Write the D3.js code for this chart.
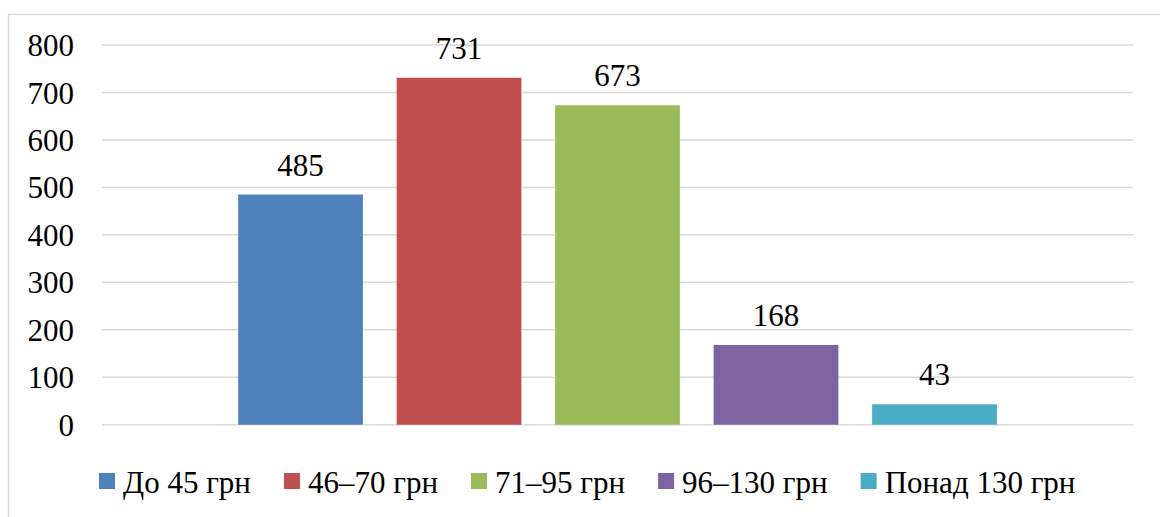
<!DOCTYPE html>
<html>
<head>
<meta charset="utf-8">
<script src="https://cdn.jsdelivr.net/npm/d3@7"></script>
<style>
  html body svg#chart text.t { font-family: "Liberation Serif", "Times New Roman", serif !important; }
</style>
</head>
<body style="margin:0">
<svg id="chart" width="1160" height="517"></svg>
<script>
const series = ["До 45 грн", "46–70 грн", "71–95 грн", "96–130 грн", "Понад 130 грн"];
const values = [485, 731, 673, 168, 43];
const colors = ["#4F81BD", "#C0504D", "#9BBB59", "#8064A2", "#4BACC6"];
const yTicks = [0, 100, 200, 300, 400, 500, 600, 700, 800];

const FONT = "Times New Roman";
const FS = 31;
const svg = d3.select("#chart");

// chart border
svg.append("rect")
  .attr("x", 8.5).attr("y", 14.5)
  .attr("width", 1200).attr("height", 600)
  .attr("fill", "#fff").attr("stroke", "#D9D9D9").attr("stroke-width", 1.5);

const plot = { left: 102, right: 1133, top: 45, bottom: 424.7 };

const y = d3.scaleLinear().domain([0, 800]).range([plot.bottom, plot.top]);
const x = d3.scaleBand().domain(series).range([plot.left, plot.right])
  .paddingInner(0.213).paddingOuter(0.859);

// gridlines
svg.append("g").selectAll("line").data(yTicks).join("line")
  .attr("x1", plot.left).attr("x2", plot.right)
  .attr("y1", d => y(d)).attr("y2", d => y(d))
  .attr("stroke", "#D9D9D9").attr("stroke-width", 1.5);

// y axis labels
const yAxis = d3.axisLeft(y).tickValues(yTicks).tickSize(0).tickPadding(0);
const ga = svg.append("g").attr("transform", "translate(74,0)").call(yAxis);
ga.attr("font-family", FONT).attr("font-size", FS);
ga.select(".domain").remove();
ga.selectAll("text")
  .attr("class", "t")
  .attr("font-family", FONT).attr("font-size", FS)
  .attr("fill", "#000").attr("dy", "0.34em");

// bars
svg.append("g").selectAll("rect").data(series).join("rect")
  .attr("x", d => x(d)).attr("width", x.bandwidth())
  .attr("y", (d, i) => y(values[i]))
  .attr("height", (d, i) => y(0) - y(values[i]))
  .attr("fill", (d, i) => colors[i]);

// data labels
svg.append("g")
  .selectAll("text").data(series).join("text")
  .attr("class", "t")
  .attr("font-family", FONT).attr("font-size", FS)
  .attr("x", d => x(d) + x.bandwidth() / 2)
  .attr("y", (d, i) => y(values[i]) - 19)
  .attr("text-anchor", "middle")
  .attr("fill", "#000")
  .text((d, i) => values[i]);

// legend
const lg = svg.append("g");
let lx = 99;
series.forEach((s, i) => {
  lg.append("rect").attr("x", lx).attr("y", 473).attr("width", 16).attr("height", 16).attr("fill", colors[i]);
  const t = lg.append("text").attr("class", "t").attr("x", lx + 24).attr("y", 493)
    .attr("font-family", FONT).attr("font-size", FS)
    .attr("fill", "#000").text(s);
  lx += 24 + t.node().getComputedTextLength() + 33;
});
</script>
</body>
</html>
